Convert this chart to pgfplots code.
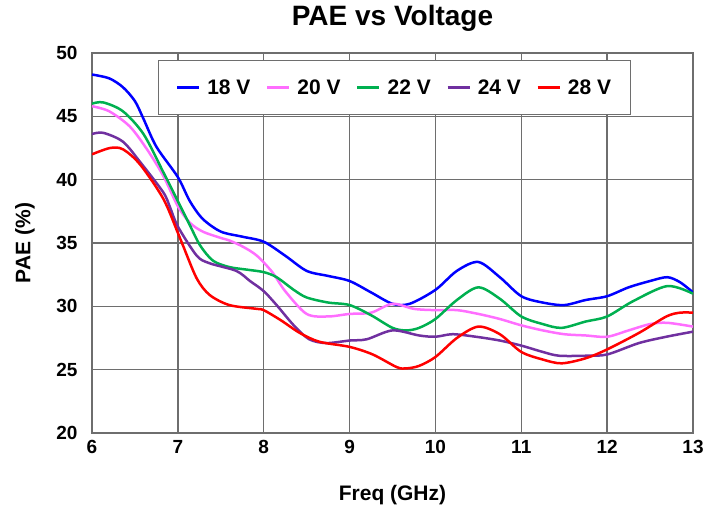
\documentclass[border=0pt]{standalone}
\usepackage{pgfplots}
\pgfplotsset{compat=1.18}
\usepackage{fontspec}
\setmainfont{Liberation Sans}
\definecolor{c18}{RGB}{0,0,255}
\definecolor{c20}{RGB}{255,110,255}
\definecolor{c22}{RGB}{0,176,80}
\definecolor{c24}{RGB}{112,48,160}
\definecolor{c28}{RGB}{255,0,0}
\definecolor{gridc}{RGB}{110,110,110}
\begin{document}
\begin{tikzpicture}
\begin{axis}[
  scale only axis,
  width=601bp, height=380bp,
  xmin=6, xmax=13, ymin=20, ymax=50,
  xtick={6,7,...,13}, ytick={20,25,...,50},
  grid=major,
  major grid style={draw=gridc, line width=1.3bp},
  axis line style={draw=gridc, line width=1.3bp},
  major tick length=0pt,
  /pgf/number format/assume math mode=true,
  tick label style={font=\fontsize{19bp}{22bp}\selectfont\bfseries},
  xticklabel style={yshift=-4bp},
  yticklabel style={xshift=-11bp},
  xlabel={Freq (GHz)},
  ylabel={PAE (\%)},
  label style={font=\fontsize{21bp}{24bp}\selectfont\bfseries},
  xlabel style={at={(axis description cs:0.5,-0.178)},anchor=base},
  ylabel style={at={(axis description cs:-0.1115,0.5)},anchor=center},
  title={PAE vs Voltage},
  title style={at={(axis description cs:0.5,1.056)},anchor=base,font=\fontsize{28bp}{32bp}\selectfont\bfseries},
  legend columns=5,
  legend style={at={(axis description cs:0.11,0.982)},anchor=north west,
    draw=gridc, line width=1.3bp, fill=white,
    font=\fontsize{21bp}{24bp}\selectfont\bfseries,
    inner xsep=17bp, inner ysep=17bp,
    /tikz/every odd column/.append style={column sep=5bp},
    /tikz/every even column/.append style={column sep=13.5bp}},
  legend image code/.code={\draw[#1,line width=2.5bp] (0bp,0bp) -- (22bp,0bp);},
  every axis plot/.append style={line width=2.5bp, smooth},
]
\coordinate (bl) at (rel axis cs:0,0);
\coordinate (tr) at (rel axis cs:1,1);
\addplot[c18] coordinates {
(6.0,48.3) (6.2,48.0) (6.36,47.3) (6.5,46.2) (6.6,44.8) (6.75,42.6) (7.0,40.2)
(7.14,38.3) (7.29,36.9) (7.5,35.9) (7.75,35.5) (8.0,35.1) (8.25,34.0) (8.5,32.8)
(8.75,32.4) (9.0,32.0) (9.25,31.1) (9.5,30.2) (9.7,30.2) (10.0,31.3) (10.25,32.8)
(10.5,33.5) (10.75,32.3) (11.0,30.8) (11.25,30.3) (11.5,30.1) (11.75,30.5) (12.0,30.8)
(12.25,31.5) (12.5,32.0) (12.7,32.3) (12.85,31.9) (13.0,31.1)};
\addlegendentry{18 V}
\addplot[c20] coordinates {
(6.0,45.8) (6.2,45.4) (6.44,44.2) (6.64,42.4) (6.83,40.3) (7.0,37.9) (7.14,36.6)
(7.29,35.9) (7.5,35.4) (7.6,35.2) (7.76,34.7) (7.92,34.0) (8.1,32.7) (8.25,31.2)
(8.5,29.4) (8.75,29.2) (9.0,29.4) (9.25,29.5) (9.5,30.2) (9.75,29.8) (10.0,29.7)
(10.25,29.7) (10.5,29.4) (10.75,29.0) (11.0,28.5) (11.25,28.1) (11.5,27.8) (11.75,27.7)
(12.0,27.6) (12.25,28.1) (12.5,28.6) (12.7,28.7) (13.0,28.4)};
\addlegendentry{20 V}
\addplot[c22] coordinates {
(6.0,46.0) (6.13,46.1) (6.36,45.4) (6.6,43.6) (6.83,40.6) (7.0,38.3) (7.14,36.4)
(7.26,34.8) (7.41,33.6) (7.6,33.1) (7.8,32.9) (8.0,32.7) (8.15,32.3) (8.35,31.3)
(8.5,30.7) (8.75,30.3) (9.0,30.1) (9.25,29.3) (9.5,28.3) (9.66,28.1) (9.81,28.3)
(10.0,29.0) (10.25,30.5) (10.5,31.5) (10.75,30.6) (11.0,29.2) (11.25,28.6) (11.47,28.3)
(11.75,28.8) (12.0,29.2) (12.3,30.4) (12.7,31.6) (13.0,31.0)};
\addlegendentry{22 V}
\addplot[c24] coordinates {
(6.0,43.6) (6.13,43.7) (6.36,43.0) (6.56,41.4) (6.83,39.0) (6.91,37.8) (7.0,36.3)
(7.22,34.0) (7.37,33.4) (7.68,32.8) (7.84,32.0) (8.0,31.2) (8.15,30.1) (8.35,28.5)
(8.53,27.4) (8.73,27.1) (9.0,27.3) (9.2,27.4) (9.5,28.1) (9.81,27.7) (10.0,27.6)
(10.2,27.8) (10.47,27.6) (10.75,27.3) (11.0,26.9) (11.25,26.4) (11.44,26.1) (11.75,26.1)
(12.0,26.2) (12.37,27.1) (12.69,27.6) (13.0,28.0)};
\addlegendentry{24 V}
\addplot[c28] coordinates {
(6.0,42.0) (6.21,42.5) (6.36,42.4) (6.56,41.2) (6.83,38.5) (7.0,35.8) (7.06,34.8)
(7.22,32.2) (7.37,30.9) (7.6,30.1) (7.92,29.8) (8.0,29.7) (8.2,28.9) (8.42,27.9)
(8.65,27.2) (9.0,26.8) (9.27,26.2) (9.55,25.2) (9.66,25.1) (9.81,25.3) (10.0,26.0)
(10.25,27.5) (10.5,28.4) (10.75,27.8) (11.0,26.4) (11.25,25.8) (11.47,25.5) (11.75,25.9)
(12.0,26.6) (12.37,27.9) (12.69,29.2) (12.85,29.5) (13.0,29.5)};
\addlegendentry{28 V}
\end{axis}
\pgfresetboundingbox
\path[use as bounding box] ([xshift=-92bp,yshift=-73bp]bl) rectangle ([xshift=29bp,yshift=53bp]tr);
\end{tikzpicture}
\end{document}
